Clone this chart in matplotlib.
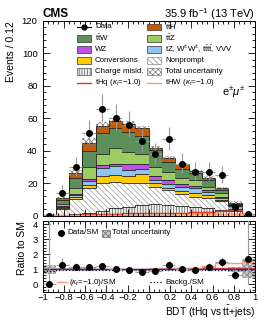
import numpy as np
import matplotlib
matplotlib.use("Agg")
import matplotlib.pyplot as plt
from matplotlib.patches import Rectangle
from matplotlib.lines import Line2D
from matplotlib.ticker import MultipleLocator

plt.rcParams['font.family'] = ['Liberation Sans', 'DejaVu Sans']
plt.rcParams['mathtext.fontset'] = 'custom'
plt.rcParams['mathtext.rm'] = 'Liberation Sans'
plt.rcParams['mathtext.it'] = 'Liberation Sans:italic'
plt.rcParams['mathtext.bf'] = 'Liberation Sans:bold'
plt.rcParams['hatch.linewidth'] = 0.5

# ---------------- data ----------------
bin_edges = [-1.0, -0.875, -0.75, -0.625, -0.5, -0.375, -0.25, -0.125, 0.0,
             0.125, 0.25, 0.375, 0.5, 0.625, 0.75, 0.875, 1.0]
data = [0, 14, 30, 51, 66, 60, 56, 46, 38, 47, 32, 27, 27, 25, 5, 1]

charge_misid = [0.1, 0.5, 1.0, 1.5, 3.0, 4.5, 5.5, 6.5, 6.8, 6.5, 5.8, 5.0, 4.8, 3.4, 2.5, 0.2]
nonprompt = [0.15, 3.8, 9.1, 15.7, 17.0, 16.0, 14.5, 13.5, 11.0, 9.2, 7.4, 6.6, 5.9, 5.3, 1.0, 0.15]
conversions = [0.02, 0.6, 1.4, 1.9, 4.1, 4.2, 4.5, 5.3, 2.1, 1.3, 1.7, 2.0, 2.1, 0.8, 0.3, 0.02]
rare = [0.03, 0.6, 1.0, 2.0, 5.2, 5.6, 3.3, 3.3, 2.1, 2.5, 2.9, 3.4, 1.5, 1.3, 2.1, 0.08]
wz = [0.0, 0.4, 0.7, 1.5, 1.6, 1.7, 3.8, 3.0, 2.1, 2.1, 1.7, 1.4, 1.4, 0.8, 0.3, 0.02]
ttz = [0.02, 1.5, 3.8, 7.6, 7.3, 9.4, 7.7, 6.2, 5.8, 5.2, 3.5, 3.2, 2.1, 2.0, 0.4, 0.03]
ttw = [0.03, 2.1, 6.2, 9.8, 12.5, 12.5, 12.5, 11.2, 10.4, 6.2, 5.9, 4.5, 4.2, 2.1, 0.4, 0.05]
tth = [0.03, 1.2, 2.9, 5.0, 4.6, 4.5, 4.8, 4.9, 1.5, 2.7, 2.7, 1.3, 1.2, 1.3, 1.0, 0.05]
total_unc = [0.11, 0.6, 1.7, 2.6, 2.1, 1.7, 2.0, 1.4, 1.0, 1.1, 0.8, 0.8, 0.9, 0.8, 1.2, 0.36]

thq = [0.05, 0.3, 0.5, 0.7, 1.0, 1.2, 1.3, 1.4, 1.5, 1.6, 1.8, 2.0, 2.3, 3.0, 3.2, 0.3]
thw = [0.02, 0.1, 0.2, 0.3, 0.4, 0.5, 0.5, 0.6, 0.6, 0.6, 0.7, 0.7, 0.8, 0.9, 0.9, 0.1]

kappa_ratio = [1.05, 1.04, 1.04, 1.04, 1.04, 1.05, 1.05, 1.05, 1.06, 1.07, 1.08, 1.10, 1.20, 1.40, 1.40, 1.50]
kappa_red_ratio = [1.04, 1.04, 1.04, 1.04, 1.04, 1.04, 1.04, 1.04, 1.05, 1.05, 1.06, 1.07, 1.08, 1.10, 1.10, 1.10]
backg_ratio = [0.92, 0.93, 0.94, 0.95, 0.95, 0.96, 0.96, 0.96, 0.96, 0.96, 0.96, 0.96, 0.96, 0.95, 0.94, 0.93]

labels = ["Charge misid.", "Nonprompt", "Conversions",
          "tZ, W$^{\\pm}$W$^{\\pm}$, t$\\bar{\\rm t}$t$\\bar{\\rm t}$, VVV",
          "WZ", "t$\\bar{\\rm t}$Z", "t$\\bar{\\rm t}$W", "t$\\bar{\\rm t}$H"]
series = [charge_misid, nonprompt, conversions, rare, wz, ttz, ttw, tth]
facecolors = ["#eeeeee", "white", "#ffcc00", "#8fc6f3", "#c050e8", "#9ccc62", "#5c8f5a", "#c95a00"]
hatches = ["||||||", "\\\\\\\\\\\\", None, None, None, None, None, None]
hatchcols = ["#555555", "#999999", None, None, None, None, None, None]

edges = np.array(bin_edges)
centers = 0.5 * (edges[:-1] + edges[1:])
halfw = 0.5 * (edges[1:] - edges[:-1])
data_a = np.array(data, dtype=float)

W, H = 266, 322
fig = plt.figure(figsize=(W / 100, H / 100), dpi=100)
ax = fig.add_axes([42.5 / W, 1 - 215.5 / H, 212.5 / W, 194.5 / H])
axr = fig.add_axes([42.5 / W, 1 - 292 / H, 212.5 / W, 71 / H])

# ---------------- main stack ----------------
bottom = np.zeros(len(data))
for vals, fc, hatch, hc in zip(series, facecolors, hatches, hatchcols):
    v = np.array(vals)
    top = bottom + v
    ax.stairs(top, edges, baseline=bottom, fill=True, facecolor=fc,
              edgecolor=hc if hatch else fc, hatch=hatch, linewidth=0)
    ax.stairs(top, edges, baseline=None, color="#222222", linewidth=0.6)
    bottom = top
total = bottom.copy()
unc = np.array(total_unc)
ax.stairs(total + unc, edges, baseline=total - unc, fill=True, facecolor="none",
          edgecolor="#777777", hatch="xxxxxx", linewidth=0)

ax.stairs(thq, edges, baseline=None, color="#e8341c", linewidth=1.0)
ax.stairs(thw, edges, baseline=None, color="#ff9966", linewidth=1.0)

yerr_lo = np.sqrt(data_a)
yerr_hi = np.sqrt(data_a) + 0.8
yerr_hi[data_a == 0] = 1.8
ax.errorbar(centers, data_a, xerr=halfw, yerr=[yerr_lo, yerr_hi], fmt="o",
            color="black", ecolor="#999999", elinewidth=0.8, markersize=4, capsize=0,
            zorder=5)

ax.set_xlim(-1, 1)
ax.set_ylim(0, 120)
ax.set_xticklabels([])
ax.yaxis.set_major_locator(MultipleLocator(20))
ax.yaxis.set_minor_locator(MultipleLocator(4))
ax.xaxis.set_major_locator(MultipleLocator(0.2))
ax.xaxis.set_minor_locator(MultipleLocator(0.05))
for a in (ax, axr):
    a.tick_params(which="both", direction="in", top=True, right=True, labelsize=6.8)
    a.tick_params(which="major", length=5, width=0.6)
    a.tick_params(which="minor", length=2.5, width=0.6)
    a.tick_params(axis="x", pad=1.0)
    for s in a.spines.values():
        s.set_linewidth(0.7)
ax.set_ylabel("Events / 0.12", fontsize=7.5, loc="top")


# ---------------- manual legend (pixel positions) ----------------
def fx(px):
    return px / W


def fy(py):
    return 1 - py / H


def leg_patch(x0, yc, fc, hatch=None, hc="#333333"):
    fig.add_artist(Rectangle((fx(x0), fy(yc + 3.4)), 14 / W, 6.8 / H, transform=fig.transFigure,
                             facecolor=fc, edgecolor=hc, hatch=hatch, linewidth=0.5))


def leg_line(x0, yc, color, ls="-", lw=1.0, marker=None, length=14):
    fig.add_artist(Line2D([fx(x0), fx(x0 + length)], [fy(yc), fy(yc)], transform=fig.transFigure,
                          color=color, linestyle=ls, linewidth=lw))
    if marker:
        fig.add_artist(Line2D([fx(x0 + length / 2)], [fy(yc)], transform=fig.transFigure,
                              color=color, marker=marker, markersize=3.5, linestyle="none"))


def leg_text(x, yc, s, fs=5.7):
    fig.text(fx(x), fy(yc), s, fontsize=fs, ha="left", va="center")


rows = [27.0 + 11.2 * i for i in range(6)]
c1p, c1t, c2p, c2t = 77, 95, 147, 165
leg_line(c1p, rows[0], "black", marker="o", lw=0.8)
leg_text(c1t, rows[0], "Data")
leg_patch(c1p, rows[1], facecolors[6]); leg_text(c1t, rows[1], labels[6])
leg_patch(c1p, rows[2], facecolors[4]); leg_text(c1t, rows[2], labels[4])
leg_patch(c1p, rows[3], facecolors[2]); leg_text(c1t, rows[3], labels[2])
leg_patch(c1p, rows[4], facecolors[0], hatch=hatches[0], hc="#555555"); leg_text(c1t, rows[4], labels[0])
leg_line(c1p, rows[5], "#e8341c"); leg_text(c1t, rows[5], "tHq ($\\kappa_t$=$-$1.0)")
leg_patch(c2p, rows[0], facecolors[7]); leg_text(c2t, rows[0], labels[7])
leg_patch(c2p, rows[1], facecolors[5]); leg_text(c2t, rows[1], labels[5])
leg_patch(c2p, rows[2], facecolors[3]); leg_text(c2t, rows[2], labels[3])
leg_patch(c2p, rows[3], "white", hatch=hatches[1], hc="#888888"); leg_text(c2t, rows[3], labels[1])
leg_patch(c2p, rows[4], "white", hatch="xxxxxx", hc="#777777"); leg_text(c2t, rows[4], "Total uncertainty")
leg_line(c2p, rows[5], "#ff9966"); leg_text(c2t, rows[5], "tHW ($\\kappa_t$=$-$1.0)")

ax.text(0.955, 0.635, "e$^{\\pm}\\mu^{\\pm}$", transform=ax.transAxes, ha="right",
        va="center", fontsize=8)
fig.text(fx(42.5), fy(14), "CMS", fontsize=8.5, fontweight="bold", ha="left", va="center")
fig.text(fx(255), fy(14), "35.9 fb$^{-1}$ (13 TeV)", fontsize=8, ha="right", va="center")

# ---------------- ratio ----------------
rel_unc = unc / total
axr.stairs(1 + rel_unc, edges, baseline=1 - rel_unc, fill=True, facecolor="#cccccc",
           edgecolor="#888888", hatch="xxxxxx", linewidth=0)
axr.axhline(1.0, color="#1030d0", linewidth=1.0)
axr.stairs(kappa_red_ratio, edges, baseline=None, color="#e8341c", linewidth=0.9)
axr.stairs(kappa_ratio, edges, baseline=None, color="#ff9977", linewidth=1.0)
axr.stairs(backg_ratio, edges, baseline=None, color="black", linewidth=0.9, linestyle=":")
ratio = data_a / total
r_lo = yerr_lo / total
r_hi = yerr_hi / total
axr.errorbar(centers, ratio, xerr=halfw, yerr=[r_lo, r_hi], fmt="o", color="black",
             ecolor="#999999", elinewidth=0.8, markersize=4, capsize=0, zorder=5)
axr.set_xlim(-1, 1)
axr.set_ylim(-0.5, 4.2)
axr.yaxis.set_major_locator(MultipleLocator(1))
axr.yaxis.set_minor_locator(MultipleLocator(0.2))
axr.xaxis.set_minor_locator(MultipleLocator(0.05))
axr.set_xticks([-1, -0.8, -0.6, -0.4, -0.2, 0, 0.2, 0.4, 0.6, 0.8, 1])
axr.set_xticklabels(["\u22121", "\u22120.8", "\u22120.6", "\u22120.4", "\u22120.2", "0",
                     "0.2", "0.4", "0.6", "0.8", "1"])
axr.set_ylabel("Ratio to SM", fontsize=7.5, loc="top")
fig.text(fx(255), fy(312), "BDT (tHq vs t$\\bar{\\rm t}$+jets)", fontsize=7.3,
         ha="right", va="center")

# ratio legends
fig.add_artist(Line2D([fx(61)], [fy(233)], transform=fig.transFigure, color="black",
                      marker="o", markersize=4, linestyle="none"))
leg_text(67, 233, "Data/SM", fs=5.8)
fig.add_artist(Rectangle((fx(102), fy(236.5)), 8 / W, 7 / H, transform=fig.transFigure,
                         facecolor="#cccccc", edgecolor="#666666", hatch="xxxxxx", linewidth=0.5))
leg_text(112, 233, "Total uncertainty", fs=5.8)
leg_line(57, 282, "#ff9977", length=10)
leg_text(69, 282, "($\\kappa_t$=$-$1.0)/SM", fs=5.8)
leg_line(150, 282, "black", ls=":", lw=0.9, length=12)
leg_text(165, 282, "Backg./SM", fs=5.8)

fig.savefig("out.png", dpi=100)
